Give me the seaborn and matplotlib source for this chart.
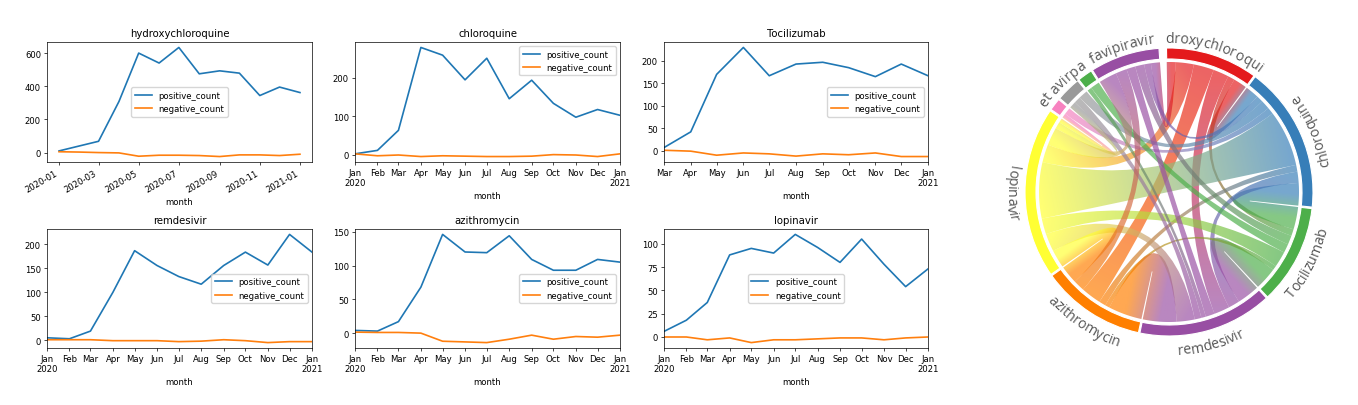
import numpy as np
import pandas as pd
import matplotlib
matplotlib.use('Agg')
import matplotlib.pyplot as plt
import matplotlib.dates as mdates
import matplotlib.ticker as mticker
import seaborn as sns
from matplotlib.path import Path
from matplotlib.patches import PathPatch, Wedge
from matplotlib.font_manager import FontProperties, findfont
from matplotlib.ft2font import FT2Font

# ---------------- line chart data ----------------
months_2020 = pd.date_range('2020-01-01', '2021-01-01', freq='MS')
months_toc = pd.date_range('2020-03-01', '2021-01-01', freq='MS')

ticks_2020 = ['Jan\n2020', 'Feb', 'Mar', 'Apr', 'May', 'Jun', 'Jul', 'Aug', 'Sep',
              'Oct', 'Nov', 'Dec', 'Jan\n2021']
ticks_toc = ['Mar', 'Apr', 'May', 'Jun', 'Jul', 'Aug', 'Sep', 'Oct', 'Nov', 'Dec', 'Jan\n2021']

hcq_pos = [10, 40, 68, 308, 600, 540, 634, 475, 493, 479, 344, 395, 362]
hcq_neg = [5, 3, 0, -2, -22, -16, -16, -18, -24, -14, -14, -18, -10]

chl_pos = [2, 11, 63, 278, 258, 194, 250, 145, 193, 133, 97, 117, 102]
chl_neg = [2, -3, -1, -5, -3, -4, -5, -5, -4, 0, -1, -5, 2]

toc_pos = [7, 42, 170, 230, 167, 193, 197, 185, 165, 193, 167]
toc_neg = [1, -1, -10, -5, -7, -12, -7, -9, -5, -13, -13]

rem_pos = [5, 3, 19, 100, 187, 156, 133, 117, 156, 184, 157, 221, 184]
rem_neg = [1, 1, 1, -1, -1, -1, -3, -2, 1, -1, -5, -3, -3]

azi_pos = [4, 3, 17, 68, 146, 120, 119, 144, 109, 93, 93, 109, 105]
azi_neg = [1.5, 1, 1, 0, -12, -13, -14, -9, -3, -9, -5, -6, -3]

lop_pos = [6, 18, 37, 88, 95, 90, 110, 96, 80, 105, 78, 54, 73]
lop_neg = [0, 0, -3, -1, -6, -3, -3, -2, -1, -1, -3, -1, 0]

# ---------------- chord data ----------------
chord_labels = ['droxychloroqui', 'chloroquine', 'Tocilizumab', 'remdesivir', 'azithromycin',
                'lopinavir', '', 'et avirpa', '', 'favipiravir']
flow_src = [0, 0, 0, 0, 0, 0, 1, 1, 1, 1, 1, 1, 1, 2, 2, 2, 2, 2, 3, 3, 3, 3, 3, 4, 4, 5, 5, 5]
flow_dst = [1, 2, 3, 4, 5, 9, 2, 3, 4, 5, 6, 7, 9, 3, 4, 5, 8, 9, 4, 5, 7, 8, 9, 5, 9, 6, 7, 9]
flow_val = [6, 3, 7, 9, 8, 4, 10, 5, 3, 25, 3, 4, 3, 10, 2, 7, 4, 4, 15, 8, 3, 2, 4, 8, 5, 2, 3, 8]

plt.rcParams.update({
    'font.size': 6.1,
    'axes.linewidth': 0.5,
    'lines.linewidth': 1.2,
    'xtick.major.size': 2.2, 'ytick.major.size': 2.2,
    'xtick.major.width': 0.5, 'ytick.major.width': 0.5,
    'xtick.major.pad': 2.1, 'ytick.major.pad': 2.1,
    'axes.titlepad': 4.0, 'axes.labelpad': 2.4,
})

W, H = 1358, 406
fig = plt.figure(figsize=(W / 100, H / 100), dpi=100)

def px_axes(left, top, right, bottom):
    return fig.add_axes([left / W, (H - bottom) / H, (right - left) / W, (bottom - top) / H])

cols = [(47, 312), (355, 620), (664, 928)]
rows = [(43, 163), (230, 349)]

panels = [
    ('hydroxychloroquine', months_2020, hcq_pos, hcq_neg, None, 'center', 200),
    ('chloroquine', months_2020, chl_pos, chl_neg, ticks_2020, 'upper right', 100),
    ('Tocilizumab', months_toc, toc_pos, toc_neg, ticks_toc, 'center right', 50),
    ('remdesivir', months_2020, rem_pos, rem_neg, ticks_2020, 'center right', 50),
    ('azithromycin', months_2020, azi_pos, azi_neg, ticks_2020, 'center right', 50),
    ('lopinavir', months_2020, lop_pos, lop_neg, ticks_2020, 'center', 25),
]

for k, (title, months, pos, neg, ticks, loc, ystep) in enumerate(panels):
    r, c = divmod(k, 3)
    ax = px_axes(cols[c][0], rows[r][0], cols[c][1], rows[r][1])
    sns.lineplot(x=months, y=pos, ax=ax, label='positive_count', color='#1f77b4')
    sns.lineplot(x=months, y=neg, ax=ax, label='negative_count', color='#ff7f0e')
    ax.set_title(title)
    ax.set_xlabel('month')
    ax.set_ylabel('')
    ax.yaxis.set_major_locator(mticker.MultipleLocator(ystep))
    ax.legend(loc=loc)
    if ticks is None:
        ax.xaxis.set_major_locator(mdates.MonthLocator(interval=2))
        ax.xaxis.set_major_formatter(mdates.DateFormatter('%Y-%m'))
        for lab in ax.get_xticklabels():
            lab.set_rotation(30)
            lab.set_ha('right')
    else:
        ax.set_xlim(months[0], months[-1])
        ax.set_xticks(months)
        ax.set_xticklabels(ticks)

# ---------------- chord diagram ----------------
pal = sns.color_palette('Set1', 9)
chord_colors = [pal[0], pal[1], pal[2], pal[3], pal[4], pal[5], pal[7], pal[8], pal[2], pal[3]]
n = len(chord_labels)
M = np.zeros((n, n))
for s, d, v in zip(flow_src, flow_dst, flow_val):
    M[s, d] += v
    M[d, s] += v

cx, cy = 1169, 193
half = 180
cax = px_axes(cx - half, cy - half, cx + half, cy + half)

r_out, band_w, rc = 144, 11, 130
pad, top_gap, start = 0.6, 3.0, -1.0
scale = (360 - top_gap - (n - 1) * pad) / M.sum()

group_ang = []
sub_ang = {}
a = start
for i in range(n):
    g0 = a
    order = sorted(range(n), key=lambda j: -((j - i) % n))
    for j in order:
        if M[i, j] > 0:
            sub_ang[(i, j)] = (a, a + M[i, j] * scale)
            a += M[i, j] * scale
    group_ang.append((g0, a))
    a += pad

def pt(th, r):
    t = np.radians(th)
    return np.array([r * np.sin(t), r * np.cos(t)])

def arc_pts(t0, t1, r, num=30):
    return [pt(t, r) for t in np.linspace(t0, t1, num)]

ng = 170
g = np.linspace(-rc, rc, ng)
GX, GY = np.meshgrid(g, g)

for s, d in zip(flow_src, flow_dst):
    a0, a1 = sub_ang[(s, d)]
    b0, b1 = sub_ang[(d, s)]
    verts = arc_pts(a0, a1, rc)
    codes = [Path.MOVETO] + [Path.LINETO] * (len(verts) - 1)
    verts += [(0, 0), pt(b0, rc)]
    codes += [Path.CURVE3, Path.CURVE3]
    tv = arc_pts(b0, b1, rc)[1:]
    verts += tv
    codes += [Path.LINETO] * len(tv)
    verts += [(0, 0), pt(a0, rc), (0, 0)]
    codes += [Path.CURVE3, Path.CURVE3, Path.CLOSEPOLY]
    path = Path(np.array(verts, dtype=float), codes)

    A = pt((a0 + a1) / 2, rc)
    B = pt((b0 + b1) / 2, rc)
    dv = B - A
    t = ((GX - A[0]) * dv[0] + (GY - A[1]) * dv[1]) / (dv @ dv)
    t = np.clip(t, 0, 1)[..., None]
    rgb = (1 - t) * np.array(chord_colors[s]) + t * np.array(chord_colors[d])
    rgba = np.concatenate([rgb, np.full(t.shape, 0.68)], axis=2)
    im = cax.imshow(rgba, extent=(-rc, rc, -rc, rc), origin='lower',
                    interpolation='bilinear', zorder=2)
    patch = PathPatch(path, facecolor='none', edgecolor='none', transform=cax.transData)
    cax.add_patch(patch)
    im.set_clip_path(patch)

for i, (g0, g1) in enumerate(group_ang):
    cax.add_patch(Wedge((0, 0), r_out, 90 - g1, 90 - g0, width=band_w,
                        facecolor=chord_colors[i], edgecolor='white', lw=0.8, zorder=3))

label_fs = 10.2
fp = FontProperties(family='Open Sans', size=label_fs)
ft = FT2Font(findfont(fp))
ft.set_size(label_fs, 100)

def advance(ch):
    return ft.load_char(ord(ch)).linearHoriAdvance / 65536

for i, lab in enumerate(chord_labels):
    if not lab:
        continue
    g0, g1 = group_ang[i]
    thc = (g0 + g1) / 2
    outward = np.cos(np.radians(thc)) > 0.5
    r = 150 if outward else 162
    widths = [advance(ch) for ch in lab]
    p = -sum(widths) / 2
    for ch, w in zip(lab, widths):
        off = np.degrees((p + w / 2) / r)
        th = thc + off if outward else thc - off
        x, y = pt(th, r)
        rot = -th if outward else 180 - th
        cax.text(x, y, ch, rotation=rot, ha='center', va='baseline', rotation_mode='anchor',
                 fontproperties=fp, color='#555555', zorder=4)
        p += w

cax.set_xlim(-half, half)
cax.set_ylim(-half, half)
cax.set_aspect('equal')
cax.axis('off')

fig.savefig('out.png', dpi=100)
